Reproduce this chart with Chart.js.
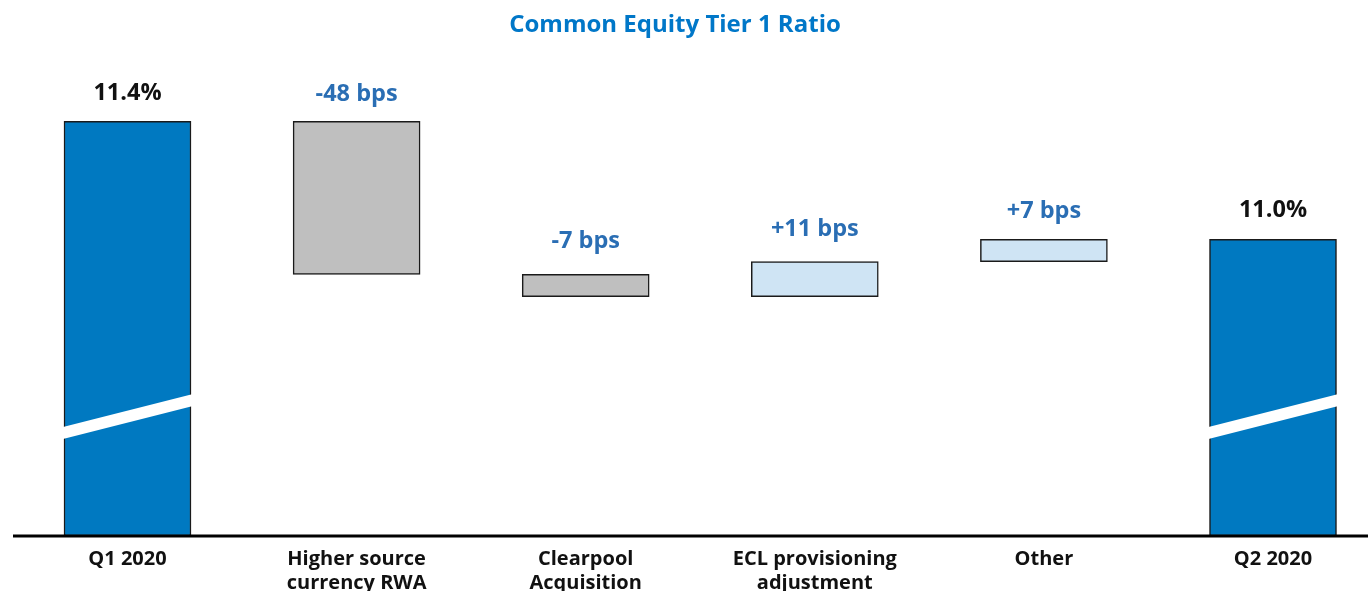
<!DOCTYPE html>
<html>
<head>
<meta charset="utf-8">
<script src="https://cdn.jsdelivr.net/npm/chart.js@4.4.1/dist/chart.umd.min.js"></script>
<style>
  html, body { margin: 0; padding: 0; background: #ffffff; }
  #wrap { width: 1368px; height: 591px; position: relative; }
</style>
</head>
<body>
<div id="wrap"><canvas id="cet1"></canvas></div>
<script>
// Category labels (multi-line)
const categories = [
  ['Q1 2020'],
  ['Higher source', 'currency RWA'],
  ['Clearpool', 'Acquisition'],
  ['ECL provisioning', 'adjustment'],
  ['Other'],
  ['Q2 2020']
];
// Opening CET1 ratio (%) and the quarter's movements (bps)
const openingRatio = 11.4;
const movementsBps = [-48, -7, 11, 7];
// Lower bound of the (broken) value axis, in %
const axisMin = 10.1;
const axisMax = 11.6;

// Build the floating bars of the walk
const closingRatio = openingRatio + movementsBps.reduce((a, b) => a + b, 0) / 100;
const bars = [[axisMin, openingRatio]];
const labels = [openingRatio.toFixed(1) + '%'];
let level = openingRatio;
movementsBps.forEach(m => {
  const next = level + m / 100;
  bars.push([Math.min(level, next), Math.max(level, next)]);
  labels.push((m > 0 ? '+' : '') + m + ' bps');
  level = next;
});
bars.push([axisMin, closingRatio]);
labels.push(closingRatio.toFixed(1) + '%');

const ratioBlue = '#0079C1';
const increase = '#CFE4F4';
const decrease = '#BFBFBF';
const fillColors = bars.map((b, i) => {
  if (i === 0 || i === bars.length - 1) return ratioBlue;
  return movementsBps[i - 1] < 0 ? decrease : increase;
});
const labelColors = bars.map((b, i) => (i === 0 || i === bars.length - 1) ? '#111111' : '#2A6EB4');
// gap (px) between each bar top and its label baseline
const labelGaps = [21, 20, 26, 26, 21, 22];

const FONT = "'Open Sans', 'Noto Sans', sans-serif";

// Value labels above each bar, axis baseline and axis-break stripes
const walkDecor = {
  id: 'walkDecor',
  afterDatasetsDraw(chart) {
    const ctx = chart.ctx;
    const meta = chart.getDatasetMeta(0);
    ctx.save();
    // break stripes across the two total bars
    [0, meta.data.length - 1].forEach(idx => {
      const el = meta.data[idx];
      const half = el.width / 2;
      const x0 = el.x - half - 1, x1 = el.x + half + 2;
      const yl = 433, yr = 400, t = 6;
      ctx.fillStyle = '#ffffff';
      ctx.beginPath();
      ctx.moveTo(x0, yl - t);
      ctx.lineTo(x1, yr - t);
      ctx.lineTo(x1, yr + t);
      ctx.lineTo(x0, yl + t);
      ctx.closePath();
      ctx.fill();
    });
    // value labels
    ctx.font = 'bold 23.5px ' + FONT;
    ctx.textAlign = 'center';
    ctx.textBaseline = 'alphabetic';
    meta.data.forEach((el, i) => {
      ctx.fillStyle = labelColors[i];
      ctx.fillText(labels[i], el.x, el.y - labelGaps[i]);
    });
    // x-axis baseline
    const yb = chart.chartArea.bottom;
    ctx.strokeStyle = '#000000';
    ctx.lineWidth = 3;
    ctx.beginPath();
    ctx.moveTo(13, yb);
    ctx.lineTo(chart.width, yb);
    ctx.stroke();
    ctx.restore();
  }
};

new Chart(document.getElementById('cet1'), {
  type: 'bar',
  data: {
    labels: categories,
    datasets: [{
      data: bars,
      backgroundColor: fillColors,
      borderColor: '#1a1a1a',
      borderWidth: 1.5,
      borderSkipped: false,
      barThickness: 127,
      clip: { left: false, right: false, top: 0, bottom: 0 }
    }]
  },
  options: {
    responsive: true,
    maintainAspectRatio: false,
    animation: false,
    layout: { padding: { left: 77, right: 95, top: 0, bottom: 0 } },
    plugins: {
      legend: { display: false },
      tooltip: { enabled: false },
      title: {
        display: true,
        text: 'Common Equity Tier 1 Ratio',
        color: '#0077C8',
        font: { family: FONT, size: 24, weight: 'bold', lineHeight: 1.2 },
        padding: { top: 10.5, bottom: 18.1 }
      }
    },
    scales: {
      x: {
        offset: false,
        grid: { display: false },
        border: { display: false },
        ticks: {
          color: '#111111',
          font: { family: FONT, size: 20, weight: 'bold', lineHeight: 1.2 },
          padding: 3,
          maxRotation: 0,
          autoSkip: false
        },
        afterFit(scale) { scale.height = 55; }
      },
      y: {
        display: true,
        min: axisMin,
        max: axisMax,
        grid: { display: false },
        border: { display: false },
        ticks: { display: false },
        afterFit(scale) { scale.width = 50.5; }
      }
    }
  },
  plugins: [walkDecor]
});
</script>
</body>
</html>
